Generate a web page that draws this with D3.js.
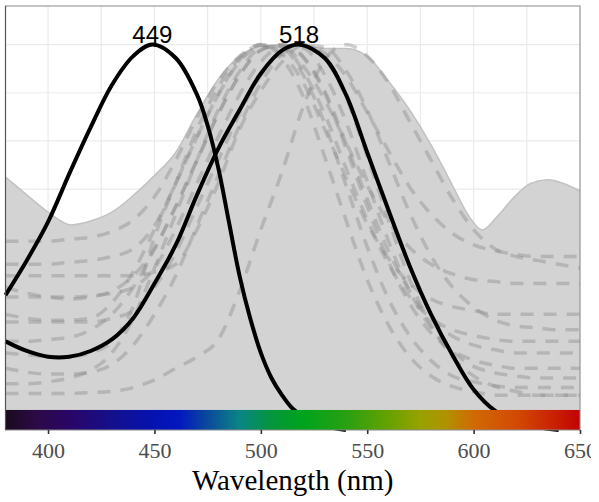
<!DOCTYPE html>
<html>
<head>
<meta charset="utf-8">
<script src="https://cdn.jsdelivr.net/npm/d3@7"></script>
<style>
  body { margin: 0; background: #fff; }
  svg { display: block; }
</style>
</head>
<body>
<svg id="chart" width="599" height="502"></svg>
<script>
// wavelengths shared by the dashed spectra
var wavelengths = [380, 390, 400, 410, 420, 430, 440, 450, 460, 470, 480, 490, 500, 510,
  520, 530, 540, 550, 560, 570, 580, 590, 600, 610, 620, 630, 640, 650];

// grey envelope (upper edge)
var envelopeNm = [380, 390, 400, 411, 420, 430, 440, 450, 460, 470, 480, 490, 500, 510, 520, 530,
  540, 550, 560, 570, 580, 590, 598, 604, 611, 619, 627, 635, 642, 650];
var envelopeVal = [0.656, 0.61, 0.565, 0.532, 0.542, 0.565, 0.608, 0.66, 0.72, 0.82, 0.91, 0.97,
  0.995, 1.0, 0.995, 0.99, 0.99, 0.97, 0.905, 0.83, 0.74, 0.635, 0.553, 0.519, 0.553, 0.604,
  0.64, 0.649, 0.64, 0.62];

// dashed spectra, one value per wavelength
var dash1 = [.49,.49,.49,.495,.50,.515,.545,.605,.70,.81,.905,.97,1,.975,.90,.78,.655,.535,.445,.38,.34,.32,.31,.30,.30,.30,.30,.30];
var dash2 = [.43,.43,.43,.435,.44,.45,.47,.53,.64,.76,.87,.96,.998,.995,.93,.82,.68,.546,.43,.345,.29,.26,.245,.235,.23,.23,.23,.23];
var dash3 = [.37,.355,.345,.34,.345,.36,.40,.47,.58,.70,.82,.92,.985,1,.968,.88,.744,.60,.464,.36,.288,.244,.22,.208,.20,.20,.20,.20];
var dash4 = [.345,.345,.345,.345,.348,.355,.37,.42,.52,.64,.76,.87,.955,.995,.99,.922,.80,.645,.49,.36,.265,.204,.165,.148,.14,.135,.135,.135];
var dash5 = [.30,.29,.285,.285,.29,.33,.41,.52,.64,.76,.87,.955,.995,.99,.92,.795,.635,.475,.34,.244,.18,.14,.125,.115,.11,.11,.11,.11];
var dash6 = [.28,.28,.28,.28,.28,.29,.31,.37,.46,.58,.70,.82,.92,.985,1,.964,.864,.709,.545,.39,.272,.19,.14,.113,.10,.09,.09,.09];
var dash7 = [.20,.195,.19,.19,.20,.23,.32,.50,.64,.78,.89,.965,1,.964,.864,.709,.545,.39,.272,.19,.14,.113,.10,.09,.09,.09,.09,.09];
var dash8 = [.16,.15,.145,.145,.15,.17,.22,.30,.40,.53,.66,.79,.90,.975,1,.978,.918,.824,.725,.63,.56,.51,.48,.465,.455,.45,.45,.45];
var dash9 = [.12,.12,.125,.135,.155,.20,.29,.42,.56,.70,.83,.93,.99,.995,.944,.857,.746,.634,.54,.473,.43,.405,.39,.385,.38,.38,.38,.38];
var dash10 = [.095,.095,.095,.095,.097,.10,.11,.13,.16,.19,.235,.36,.52,.67,.84,.96,1,.97,.90,.80,.70,.60,.52,.47,.45,.44,.43,.42];
var dash11 = [.23,.23,.235,.24,.26,.30,.37,.47,.58,.70,.82,.92,.985,1,.966,.874,.731,.58,.437,.328,.252,.206,.181,.168,.16,.16,.16,.16];
var dash12 = [.40,.40,.40,.40,.40,.40,.40,.41,.43,.52,.64,.78,.88,.955,.998,.993,.933,.83,.697,.563,.452,.371,.319,.285,.27,.265,.26,.26];

// the two highlighted sensitivity curves
var nm449 = [380, 390, 400, 410, 420, 430, 440, 449, 460, 470, 475, 480, 485, 490, 495, 500, 505, 510, 515, 520, 530, 540];
var val449 = [0.35, 0.44, 0.54, 0.665, 0.785, 0.895, 0.97, 1.0, 0.965, 0.87, 0.79, 0.68, 0.54, 0.40, 0.29, 0.20, 0.135, 0.09, 0.055, 0.035, 0.01, 0];
var nm518 = [380, 390, 400, 410, 420, 430, 440, 450, 460, 470, 480, 490, 500, 510, 518, 530, 540,
  550, 560, 570, 580, 590, 600, 610, 620, 630, 640];
var val518 = [0.23, 0.205, 0.19, 0.19, 0.205, 0.235, 0.29, 0.38, 0.48, 0.61, 0.73, 0.83, 0.925, 0.985,
  1.0, 0.965, 0.87, 0.72, 0.57, 0.425, 0.30, 0.195, 0.105, 0.05, 0.02, 0.008, 0];
var peakLabels = ["449", "518"];

// colour bar stops
var specNm = [380, 395, 410, 430, 450, 462, 475, 490, 505, 520, 540, 560, 575, 587, 600, 620, 640, 650];
var specCol = ["#1a0a1c", "#2c0a48", "#2a0566", "#14108c", "#0512b2", "#0318c0", "#0a4a9c", "#0a8584",
  "#04963c", "#00a41c", "#28a012", "#66a202", "#98a200", "#b09200", "#d06a04", "#d24a04", "#c81c02", "#c00204"];

var xTicks = [400, 450, 500, 550, 600, 650];

var svg = d3.select("#chart");
var x = d3.scaleLinear().domain([380, 650]).range([5.5, 580]);
var y = d3.scaleLinear().domain([0, 1.1]).range([430, 6]);

// the original picture is cropped just right of the last tick label
svg.append("defs").append("clipPath").attr("id", "crop")
  .append("rect").attr("x", 0).attr("y", 0).attr("width", 591).attr("height", 502);

var g = svg.append("g").attr("clip-path", "url(#crop)");

// grid
g.selectAll(".vgrid")
  .data(d3.range(400, 651, 25))
  .enter().append("line")
  .attr("x1", function(d) { return x(d); })
  .attr("x2", function(d) { return x(d); })
  .attr("y1", y(1.1)).attr("y2", y(0))
  .attr("stroke", "#ebebeb").attr("stroke-width", 1.2);
g.selectAll(".hgrid")
  .data(d3.range(0.125, 1.01, 0.125))
  .enter().append("line")
  .attr("x1", x(380)).attr("x2", x(650))
  .attr("y1", function(d) { return y(d); })
  .attr("y2", function(d) { return y(d); })
  .attr("stroke", "#ebebeb").attr("stroke-width", 1.2);

// envelope
var envData = envelopeNm.map(function(n, i) { return {nm: n, v: envelopeVal[i]}; });
g.append("path")
  .datum(envData)
  .attr("fill", "#d3d3d3")
  .attr("d", d3.area()
    .x(function(d) { return x(d.nm); })
    .y0(y(0))
    .y1(function(d) { return y(d.v); })
    .curve(d3.curveMonotoneX));
g.append("path")
  .datum(envData)
  .attr("fill", "none")
  .attr("stroke", "#c2c2c2")
  .attr("stroke-width", 1.5)
  .attr("d", d3.line()
    .x(function(d) { return x(d.nm); })
    .y(function(d) { return y(d.v); })
    .curve(d3.curveMonotoneX));

// dashed spectra
var dashed = [dash1, dash2, dash3, dash4, dash5, dash6, dash7, dash8, dash9, dash10, dash11, dash12];
var dashLine = d3.line()
  .x(function(d, i) { return x(wavelengths[i]); })
  .y(function(d) { return y(d); })
  .curve(d3.curveMonotoneX);
g.selectAll(".spec")
  .data(dashed)
  .enter().append("path")
  .attr("class", "spec")
  .attr("fill", "none")
  .attr("stroke", "#8c8c8c")
  .attr("stroke-opacity", 0.42)
  .attr("stroke-width", 3.5)
  .attr("stroke-dasharray", "13,10")
  .attr("d", dashLine);

// highlighted curves
var blackLine = d3.line()
  .x(function(d) { return x(d.nm); })
  .y(function(d) { return y(d.v); })
  .curve(d3.curveCatmullRom.alpha(0.5));
[[nm449, val449], [nm518, val518]].forEach(function(s) {
  g.append("path")
    .datum(s[0].map(function(n, i) { return {nm: n, v: s[1][i]}; }))
    .attr("fill", "none")
    .attr("stroke", "#000")
    .attr("stroke-width", 4)
    .attr("d", blackLine);
});

// colour bar
var grad = svg.select("defs").append("linearGradient")
  .attr("id", "spec").attr("x1", "0%").attr("x2", "100%");
grad.selectAll("stop")
  .data(specNm)
  .enter().append("stop")
  .attr("offset", function(d) { return ((d - 380) / 270 * 100) + "%"; })
  .attr("stop-color", function(d, i) { return specCol[i]; });
g.append("rect")
  .attr("x", x(380)).attr("width", x(650) - x(380))
  .attr("y", y(0.052)).attr("height", y(0) - y(0.052))
  .attr("fill", "url(#spec)");

// peak labels
g.selectAll(".peak")
  .data(peakLabels)
  .enter().append("text")
  .attr("x", function(d) { return x(+d); })
  .attr("y", y(1.0) - 2)
  .attr("text-anchor", "middle")
  .style("font", "24px 'Liberation Sans', Arial, sans-serif")
  .attr("fill", "#000")
  .text(function(d) { return d; });

// panel border
g.append("rect")
  .attr("x", x(380)).attr("y", y(1.1))
  .attr("width", x(650) - x(380)).attr("height", y(0) - y(1.1))
  .attr("fill", "none").attr("stroke", "#8a8a8a").attr("stroke-width", 1);
g.append("line")
  .attr("x1", x(380)).attr("x2", x(380))
  .attr("y1", y(1.1)).attr("y2", y(0))
  .attr("stroke", "#555").attr("stroke-width", 1.2);

// x axis
var xAxis = g.append("g")
  .attr("transform", "translate(0," + y(0) + ")")
  .call(d3.axisBottom(x).tickValues(xTicks).tickSize(4).tickPadding(8).tickFormat(d3.format("d")));
xAxis.select(".domain").remove();
xAxis.selectAll("line").attr("stroke", "#333").attr("stroke-width", 1.6);
xAxis.selectAll("text")
  .attr("fill", "#4d4d4d")
  .style("font-family", "'Liberation Serif', 'Times New Roman', serif")
  .style("font-size", "22px");

g.append("text")
  .attr("x", (x(380) + x(650)) / 2)
  .attr("y", 490)
  .attr("text-anchor", "middle")
  .style("font-family", "'Liberation Serif', 'Times New Roman', serif")
  .style("font-size", "29px")
  .attr("fill", "#000")
  .text("Wavelength (nm)");
</script>
</body>
</html>
